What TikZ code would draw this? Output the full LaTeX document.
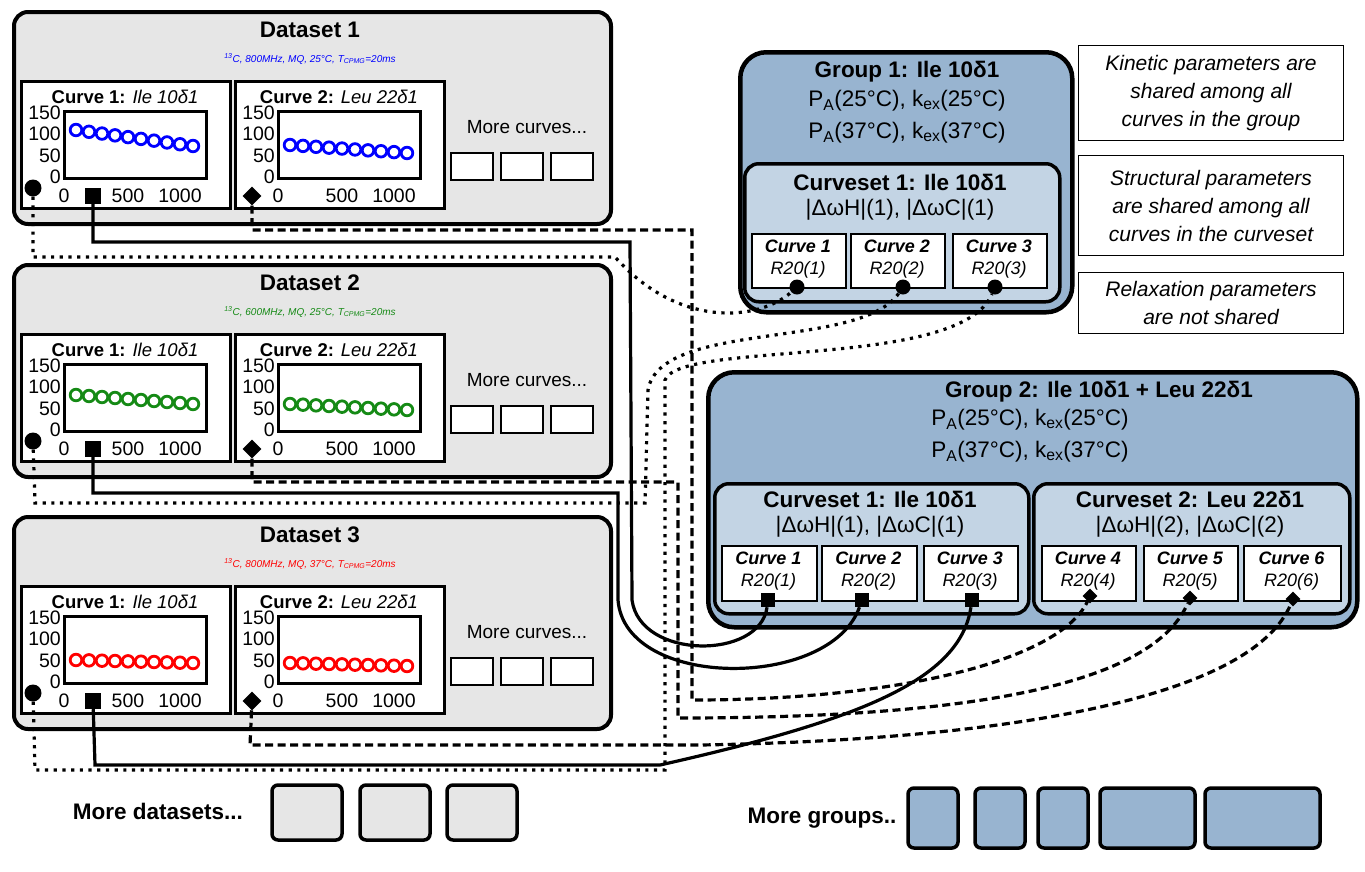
\documentclass[tikz,border=0pt]{standalone}
\usepackage{fontspec}
\setmainfont{Liberation Sans}
\usetikzlibrary{shapes.geometric}
\definecolor{dsgray}{HTML}{E6E6E6}
\definecolor{gblue}{HTML}{98B4D0}
\definecolor{cblue}{HTML}{C3D4E4}
\definecolor{dgreen}{HTML}{158A15}
\begin{document}
\begin{tikzpicture}[x=1pt,y=-1pt,
  dsbox/.style={draw,line width=4pt,rounded corners=14pt,fill=dsgray},
  cbox/.style={draw,line width=2.5pt,fill=white},
  grpbox/.style={draw,line width=4.5pt,rounded corners=26pt,fill=gblue},
  csbox/.style={draw,line width=3.5pt,rounded corners=14pt,fill=cblue},
  gcurve/.style={draw,line width=2pt,fill=white},
  notebox/.style={draw,line width=1pt,fill=white},
  lnk/.style={line width=3.2pt},
  dotl/.style={lnk,dash pattern=on 3.2pt off 5.5pt},
  dashl/.style={lnk,dash pattern=on 8pt off 4.5pt},
  mcirc/.style={circle,fill=black,inner sep=0pt,minimum size=17pt},
  msq/.style={rectangle,fill=black,inner sep=0pt,minimum size=16pt},
  mdia/.style={diamond,fill=black,inner sep=0pt,minimum size=19pt},
  gdot/.style={circle,fill=black,inner sep=0pt,minimum size=15pt},
  gsq/.style={rectangle,fill=black,inner sep=0pt,minimum size=14pt},
  gdia/.style={diamond,fill=black,inner sep=0pt,minimum size=15pt},
  tick/.style={font=\fontsize{19.5}{19.5}\selectfont,inner sep=0pt},
  big/.style={font=\fontsize{22.5}{22.5}\selectfont},
  bigb/.style={font=\fontsize{22.5}{22.5}\selectfont\bfseries},
]
\useasboundingbox (0,0) rectangle (1365,871);
% ---------------- datasets
\foreach \i/\oy/\col/\mhz/\tmp/\a/\b/\c/\d in {1/0/blue/800/25/130/146/145/153,2/253/dgreen/600/25/142/151/151/157,3/505/red/800/37/155/158/158/161}{
  \node[dsbox,minimum width=597pt,minimum height=212pt,anchor=north west] (ds\i) at (12,{10+\oy}) {};
  \node[bigb] (dst\i) at (310,{30+\oy}) {Dataset \i};
  \node[big,font=\itshape,text=\col] (dss\i) at (310,{59+\oy}) {\textsuperscript{13}C, \mhz MHz, MQ, \tmp°C, T\textsubscript{CPMG}=20ms};
  \foreach \bx/\nm/\lab/\ya/\yb in {0/1/Ile 10δ1/\a/\b,214/2/Leu 22δ1/\c/\d}{
    \node[cbox,minimum width=209pt,minimum height=127pt,anchor=north west] (cb\i\nm) at ({20+\bx},{80+\oy}) {};
    \node[font=\fontsize{18.5}{18.5}\selectfont] (cbt\i\nm) at ({125+\bx},{97+\oy}) {\textbf{Curve \nm:} \textit{\lab}};
    \draw[line width=3pt] ({64+\bx},{111+\oy}) rectangle ({206+\bx},{178+\oy});
    \node[tick,anchor=east] at ({61+\bx},{113+\oy}) {150};
    \node[tick,anchor=east] at ({61+\bx},{134+\oy}) {100};
    \node[tick,anchor=east] at ({61+\bx},{156+\oy}) {50};
    \node[tick,anchor=east] at ({61+\bx},{177+\oy}) {0};
    \node[tick] at ({64+\bx},{196+\oy}) {0};
    \node[tick] at ({128+\bx},{196+\oy}) {500};
    \node[tick] at ({180+\bx},{196+\oy}) {1000};
    \foreach \k in {0,...,9}{
      \draw[\col,line width=2.8pt,fill=white] ({76+\bx+\k*13},{\oy+\ya+(\yb-\ya)*\k/9}) circle (5.8pt);
    }
  }
  \node[font=\fontsize{19}{19}\selectfont] (mc\i t) at (527,{127+\oy}) {More curves...};
  \foreach \mx in {451,501,551}{
    \draw[line width=2.5pt,fill=white] (\mx,{153+\oy}) rectangle ({\mx+42},{180+\oy});
  }
  \node[mcirc] (mc\i) at (33,{188+\oy}) {};
  \node[msq] (ms\i) at (93,{196+\oy}) {};
  \node[mdia] (md\i) at (252,{196+\oy}) {};
}
% ---------------- group 1
\node[grpbox,minimum width=332pt,minimum height=260pt,anchor=north west] (g1) at (738,50) {};
\node[bigb] (g1t) at (907,72) {Group 1: Ile 10δ1};
\node[big] (g1p1) at (907,101) {P\textsubscript{A}(25°C), k\textsubscript{ex}(25°C)};
\node[big] (g1p2) at (907,133) {P\textsubscript{A}(37°C), k\textsubscript{ex}(37°C)};
\node[csbox,minimum width=315pt,minimum height=138pt,anchor=north west] (g1cs) at (743,162) {};
\node[bigb] at (900,182) {Curveset 1: Ile 10δ1};
\node[big] at (900,210) {|ΔωH|(1), |ΔωC|(1)};
\foreach \x/\n/\cx in {751/1/797,850/2/903,952/3/995}{
  \node[gcurve,minimum width=94pt,minimum height=54pt,anchor=north west] (g1c\n) at (\x,233) {};
  \node[font=\fontsize{18}{18}\selectfont\bfseries\itshape] at ({\x+47},246) {Curve \n};
  \node[font=\fontsize{18}{18}\selectfont\itshape] at ({\x+47},270) {R20(\n)};
  \node[gdot] (g1m\n) at (\cx,287) {};
}
% ---------------- group 2
\node[grpbox,minimum width=649pt,minimum height=255pt,anchor=north west] (g2) at (706,370) {};
\node[bigb] (g2t) at (1099,392) {Group 2: Ile 10δ1 + Leu 22δ1};
\node[big] (g2p1) at (1030,420) {P\textsubscript{A}(25°C), k\textsubscript{ex}(25°C)};
\node[big] (g2p2) at (1030,452) {P\textsubscript{A}(37°C), k\textsubscript{ex}(37°C)};
\node[csbox,minimum width=314pt,minimum height=130pt,anchor=north west] (g2cs1) at (713,482) {};
\node[csbox,minimum width=316pt,minimum height=130pt,anchor=north west] (g2cs2) at (1032,482) {};
\node[bigb] at (870,499) {Curveset 1: Ile 10δ1};
\node[big] at (870,527) {|ΔωH|(1), |ΔωC|(1)};
\node[bigb] at (1190,499) {Curveset 2: Leu 22δ1};
\node[big] at (1190,527) {|ΔωH|(2), |ΔωC|(2)};
\foreach \x/\n/\cx/\w in {721/1/768/95,821/2/862/95,923/3/972/94,1041/4/1090/94,1143/5/1190/94,1243/6/1293/97}{
  \node[gcurve,minimum width=\w pt,minimum height=55pt,anchor=north west] (g2c\n) at (\x,545) {};
  \node[font=\fontsize{18}{18}\selectfont\bfseries\itshape] at ({\x+\w/2},558) {Curve \n};
  \node[font=\fontsize{18}{18}\selectfont\itshape] at ({\x+\w/2},582) {R20(\n)};
}
\foreach \n/\cx in {1/768,2/862,3/972}{\node[gsq] (g2m\n) at (\cx,600) {};}
\foreach \n/\cx/\cy in {4/1090/596,5/1190/598,6/1293/599}{\node[gdia] (g2m\n) at (\cx,\cy) {};}
% ---------------- notes
\node[notebox,minimum width=265pt,minimum height=95pt,anchor=north west] (n1) at (1078,45) {};
\node[font=\fontsize{21}{28}\selectfont\itshape,align=center] at (n1.center) {Kinetic parameters are\\shared among all\\curves in the group};
\node[notebox,minimum width=265pt,minimum height=100pt,anchor=north west] (n2) at (1078,155) {};
\node[font=\fontsize{21}{28}\selectfont\itshape,align=center] at (n2.center) {Structural parameters\\are shared among all\\curves in the curveset};
\node[notebox,minimum width=265pt,minimum height=61pt,anchor=north west] (n3) at (1078,272) {};
\node[font=\fontsize{21}{28}\selectfont\itshape,align=center] at (n3.center) {Relaxation parameters\\are not shared};
% ---------------- more
\node[bigb] (mds) at (158,811) {More datasets...};
\foreach \mx in {272,360,447}{\draw[line width=3.5pt,rounded corners=6pt,fill=dsgray] (\mx,785) rectangle ({\mx+70},840);}
\node[bigb] (mgr) at (822,818) {More groups..};
\foreach \mx/\mw in {908/50,975/50,1038/50,1100/95,1205/115}{\draw[line width=3.5pt,rounded corners=6pt,fill=gblue] (\mx,788) rectangle ({\mx+\mw},848);}
% ---------------- connectors
\draw[dotl] (mc1) -- (33,257) -- (615,257) .. controls (680,330) and (760,320) .. (g1m1);
\draw[dotl] (mc2) -- (35,503) -- (645,503) -- (648,390) .. controls (660,320) and (860,350) .. (g1m2);
\draw[dotl] (mc3) -- (35,770) -- (665,770) -- (665,380) .. controls (680,340) and (960,370) .. (g1m3);
\draw[lnk] (ms1) -- (93,242) -- (630,242) -- (632,600) .. controls (640,660) and (760,660) .. (g2m1);
\draw[lnk] (ms2) -- (93,493) -- (618,493) -- (618,600) .. controls (625,690) and (830,690) .. (g2m2);
\draw[lnk] (ms3) -- (95,765) -- (660,765) .. controls (860,720) and (960,680) .. (g2m3);
\draw[dashl] (md1) -- (252,230) -- (692,230) -- (692,700) .. controls (900,700) and (1060,660) .. (g2m4);
\draw[dashl] (md2) -- (252,482) -- (678,482) -- (678,718) .. controls (950,718) and (1150,690) .. (g2m5);
\draw[dashl] (md3) -- (250,745) -- (700,745) .. controls (1000,740) and (1250,700) .. (g2m6);
\end{tikzpicture}
\end{document}
